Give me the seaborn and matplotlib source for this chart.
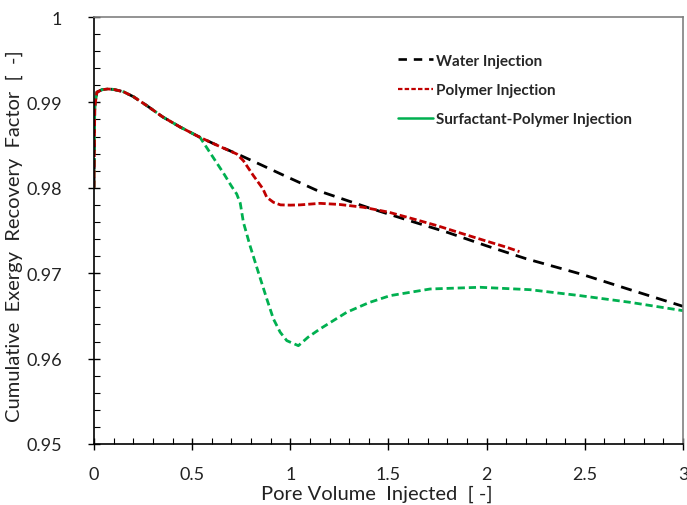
import matplotlib
matplotlib.use("Agg")
import matplotlib.pyplot as plt
import seaborn as sns
import pandas as pd
from matplotlib.lines import Line2D
from matplotlib.ticker import MultipleLocator, FixedLocator

# ---- data ----
water_x = [0, 0.004, 0.015, 0.04, 0.07, 0.1, 0.15, 0.2, 0.27, 0.35, 0.44, 0.54,
           0.63, 0.73, 0.85, 0.97, 1.13, 1.4, 1.6, 1.8, 2.0, 2.2, 2.48, 2.73, 3.0]
water_y = [0.980, 0.9895, 0.9912, 0.99148, 0.99157, 0.99152, 0.99125, 0.99068,
           0.98961, 0.98830, 0.98710, 0.98591, 0.98495, 0.98396, 0.98270, 0.98142,
           0.97975, 0.97765, 0.97620, 0.97478, 0.97320, 0.97170, 0.96990, 0.96807,
           0.96612]

polymer_x = [0, 0.004, 0.015, 0.04, 0.07, 0.1, 0.15, 0.2, 0.27, 0.35, 0.44, 0.54,
             0.63, 0.727, 0.761, 0.812, 0.86, 0.88, 0.914, 0.95, 1.0, 1.05, 1.151,
             1.25, 1.372, 1.5, 1.627, 1.75, 1.882, 2.0, 2.1, 2.167]
polymer_y = [0.980, 0.9895, 0.9912, 0.99148, 0.99157, 0.99152, 0.99125, 0.99068,
             0.98961, 0.98830, 0.98710, 0.98591, 0.98495, 0.98396, 0.98317, 0.98142,
             0.97990, 0.97889, 0.97830, 0.97800, 0.97797, 0.97800, 0.97818, 0.97805,
             0.97772, 0.97715, 0.97635, 0.97555, 0.97459, 0.97375, 0.97305, 0.97252]

sp_x = [0, 0.004, 0.015, 0.04, 0.07, 0.1, 0.15, 0.2, 0.27, 0.35, 0.44, 0.54,
        0.6, 0.66, 0.70, 0.727, 0.745, 0.761, 0.795, 0.837, 0.88, 0.914, 0.948,
        0.982, 1.041, 1.09, 1.151, 1.287, 1.4, 1.508, 1.712, 1.966, 2.22, 2.476,
        2.73, 3.0]
sp_y = [0.980, 0.9895, 0.9912, 0.99148, 0.99157, 0.99152, 0.99125, 0.99068,
        0.98961, 0.98830, 0.98710, 0.98591, 0.98380, 0.98170, 0.98020, 0.97927,
        0.97820, 0.97596, 0.97320, 0.97011, 0.96700, 0.96464, 0.96310, 0.96210,
        0.96151, 0.96250, 0.96347, 0.96542, 0.96655, 0.96737, 0.96815, 0.96835,
        0.96807, 0.96737, 0.96659, 0.96561]

series_names = ["Water Injection", "Polymer Injection", "Surfactant-Polymer Injection"]
x_ticks = [0, 0.5, 1, 1.5, 2, 2.5, 3]
x_tick_labels = ["0", "0.5", "1", "1.5", "2", "2.5", "3"]
y_ticks = [0.95, 0.96, 0.97, 0.98, 0.99, 1.0]
y_tick_labels = ["0.95", "0.96", "0.97", "0.98", "0.99", "1"]

sns.set_theme(style="white")
plt.rcParams['font.family'] = ['Lato', 'DejaVu Sans']

fig = plt.figure(figsize=(6.87, 5.06), dpi=100)
ax = fig.add_axes([0.1368, 0.1206, 0.8574, 0.8438])

colors = ["#000000", "#C00000", "#00B050"]
styles = [(0, (4.0, 2.6)), (0, (2.6, 1.1)), (0, (2.6, 1.4))]
lw = 2.0

sns.lineplot(x=water_x, y=water_y, ax=ax, color=colors[0], linestyle=styles[0], lw=lw, sort=False)
sns.lineplot(x=sp_x, y=sp_y, ax=ax, color=colors[2], linestyle=styles[2], lw=lw, sort=False)
sns.lineplot(x=polymer_x, y=polymer_y, ax=ax, color=colors[1], linestyle=styles[1], lw=lw, sort=False)

ax.set_xlim(0, 3)
ax.set_ylim(0.95, 1.0)
ax.xaxis.set_major_locator(FixedLocator(x_ticks))
ax.set_xticklabels(x_tick_labels)
ax.yaxis.set_major_locator(FixedLocator(y_ticks))
ax.set_yticklabels(y_tick_labels)
ax.xaxis.set_minor_locator(MultipleLocator(0.1))
ax.yaxis.set_minor_locator(MultipleLocator(0.002))

ax.tick_params(axis='both', which='major', direction='inout', length=8, width=1,
               color='black', labelsize=13, labelcolor='#222222')
ax.tick_params(axis='y', which='major', pad=19)
ax.tick_params(axis='x', which='major', pad=12)
ax.tick_params(axis='both', which='minor', direction='in', length=4, width=0.8,
               color='black')
ax.tick_params(axis='both', which='both', bottom=True, left=True, top=False, right=False)

for s in ['left', 'bottom']:
    ax.spines[s].set_color('black')
    ax.spines[s].set_linewidth(1.2)
for s in ['top', 'right']:
    ax.spines[s].set_color('#808080')
    ax.spines[s].set_linewidth(1.2)

ax.set_xlabel("Pore Volume  Injected  [ -]", fontsize=14.5, color='#222222', labelpad=2)
ax.set_ylabel("Cumulative  Exergy  Recovery  Factor  [  -]", fontsize=14.5, color='#222222')
ax.yaxis.set_label_coords(-0.12, 0.49)
ax.xaxis.label.set_x(0.4805)
ax.grid(False)

handles = [
    Line2D([], [], color=colors[0], linestyle=(0, (3.2, 2.6)), lw=1.9),
    Line2D([], [], color=colors[1], linestyle=(0, (2.0, 1.0)), lw=1.6),
    Line2D([], [], color=colors[2], linestyle='-', lw=1.8),
]
leg = ax.legend(handles, series_names, loc='upper left', bbox_to_anchor=(0.493, 0.946),
                frameon=False, handlelength=2.3, handletextpad=0.2, labelspacing=1.0,
                prop={'family': ['Lato', 'DejaVu Sans'], 'weight': 'bold', 'size': 11})

fig.savefig("out.png", dpi=100)
